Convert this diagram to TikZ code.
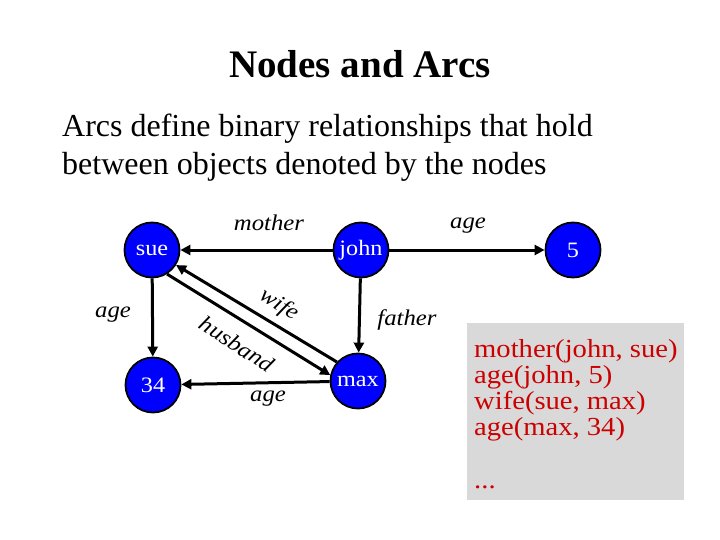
\documentclass[tikz,border=0pt]{standalone}
\usepackage{fontspec}
\setmainfont{Liberation Serif}
\newfontfamily\widefont[FakeStretch=1.1]{Liberation Serif}
\usetikzlibrary{arrows.meta,calc}
\definecolor{factred}{RGB}{204,0,0}
\definecolor{boxgray}{RGB}{217,217,217}
\tikzset{
  ent/.style={circle, fill=blue, draw=black, line width=1.8pt, minimum size=55pt, inner sep=0pt, text=white, font=\widefont\fontsize{22}{22}\selectfont},
  rel/.style={draw=black, line width=3pt, -{Triangle[length=10pt,width=10pt]}},
  lbl/.style={font=\widefont\fontsize{22.5}{22.5}\selectfont\itshape, inner sep=0pt},
  fact/.style={anchor=base west, text=factred, font=\widefont\fontsize{26}{26}\selectfont, inner sep=0pt}
}
\begin{document}
\begin{tikzpicture}[x=1pt,y=-1pt]
\useasboundingbox (0,0) rectangle (720,540);
\node[font=\fontsize{39}{39}\selectfont\bfseries, anchor=base] (title) at (360,78) {Nodes and Arcs};
\node[font=\fontsize{32}{32}\selectfont, anchor=base west, inner sep=0pt] (l1) at (62,137) {Arcs define binary relationships that hold};
\node[font=\fontsize{32}{32}\selectfont, anchor=base west, inner sep=0pt] (l2) at (62,175) {between objects denoted by the nodes};

\node[ent] (sue) at (152,250) {sue};
\node[ent] (john) at (361,250) {john};
\node[ent] (five) at (573,250) {5};
\node[ent] (n34) at (153,385) {34};
\node[ent] (max) at (358,381) {max};

\draw[rel] (john) -- (sue);
\draw[rel] (john) -- (five);
\draw[rel] (sue) -- (n34);
\draw[rel] (john) -- (max);
\draw[rel] (max) -- (n34);
\draw[rel] (max.138) -- (sue.-32);
\draw[rel] (sue.-58) -- (max.168);

\node[lbl] (lmother) at (269,223) {mother};
\node[lbl] (lage1) at (468,226) {age};
\node[lbl] (lage2) at (113,315) {age};
\node[lbl] (lfather) at (407,320) {father};
\node[lbl] (lage3) at (268,399) {age};
\node[lbl, rotate=-33] (lwife) at (279,305) {wife};
\node[lbl, rotate=-33] (lhusband) at (237,344) {husband};

\fill[boxgray] (467,323) rectangle (684,500);
\node[fact] (f1) at (474,357) {mother(john, sue)};
\node[fact] (f2) at (474,383) {age(john, 5)};
\node[fact] (f3) at (474,409) {wife(sue, max)};
\node[fact] (f4) at (474,435) {age(max, 34)};
\node[fact] (f5) at (474,488) {...};
\end{tikzpicture}
\end{document}
